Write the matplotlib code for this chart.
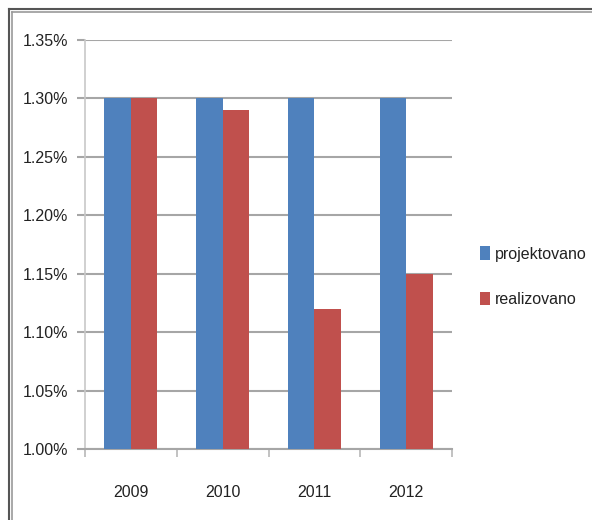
import matplotlib
matplotlib.use("Agg")
import matplotlib.pyplot as plt
import numpy as np
from matplotlib.lines import Line2D

years = ["2009", "2010", "2011", "2012"]
projektovano = [1.30, 1.30, 1.30, 1.30]
realizovano = [1.30, 1.29, 1.12, 1.15]
yticks = [1.00, 1.05, 1.10, 1.15, 1.20, 1.25, 1.30, 1.35]
series_names = ["projektovano", "realizovano"]

plt.rcParams['font.family'] = ["Liberation Sans", "DejaVu Sans"]

W, H = 592, 520
fig = plt.figure(figsize=(W/100, H/100), dpi=100)
ax = fig.add_axes([85/W, 1-449/H, (452-85)/W, (449-40)/H])

x = np.arange(len(years))
bw = 0.29
blue = "#4f81bd"
red = "#c0504d"
ax.bar(x - bw/2, np.array(projektovano) - 1.0, bw, bottom=1.0, color=blue, label=series_names[0], zorder=3)
ax.bar(x + bw/2, np.array(realizovano) - 1.0, bw, bottom=1.0, color=red, label=series_names[1], zorder=3)

fs = 11.5
ax.set_xlim(-0.5, len(years) - 0.5)
ax.set_ylim(1.00, 1.35)
ax.set_yticks(yticks)
ax.set_yticklabels([f"{v:.2f}%" for v in yticks], fontsize=fs, color="#222222")
ax.yaxis.grid(True, color="#a6a6a6", linewidth=1.5, zorder=0)
ax.set_xticks(np.arange(-0.5, len(years)), minor=False)
ax.set_xticklabels([])
ax.set_xticks(x, minor=True)
ax.set_xticklabels(years, minor=True, fontsize=fs, color="#222222")
ax.tick_params(axis="x", which="minor", length=0, pad=26)
ax.tick_params(axis="x", which="major", length=6, color="#b8b8b8", width=1.2)
ax.tick_params(axis="y", length=6, color="#a6a6a6", width=1.5, pad=6)
for s in ["top", "right"]:
    ax.spines[s].set_visible(False)
ax.spines["left"].set_color("#c8c8c8")
ax.spines["left"].set_linewidth(1.2)
ax.spines["bottom"].set_color("#a6a6a6")
ax.spines["bottom"].set_linewidth(1.5)

leg = fig.legend(loc="upper left", bbox_to_anchor=(466/W, 1-232/H), frameon=False,
                 fontsize=fs, handlelength=0.6, handleheight=0.9, handletextpad=0.3,
                 labelspacing=1.9)
for t in leg.get_texts():
    t.set_color("#222222")

# outer border (double line)
for off, lw, c in [(9, 1.5, "#555555"), (12, 1.2, "#999999")]:
    fig.add_artist(Line2D([off/W, off/W], [0, 1-off/H], transform=fig.transFigure, color=c, lw=lw))
    fig.add_artist(Line2D([off/W, 1], [1-off/H, 1-off/H], transform=fig.transFigure, color=c, lw=lw))

fig.savefig("out.png", dpi=100)
